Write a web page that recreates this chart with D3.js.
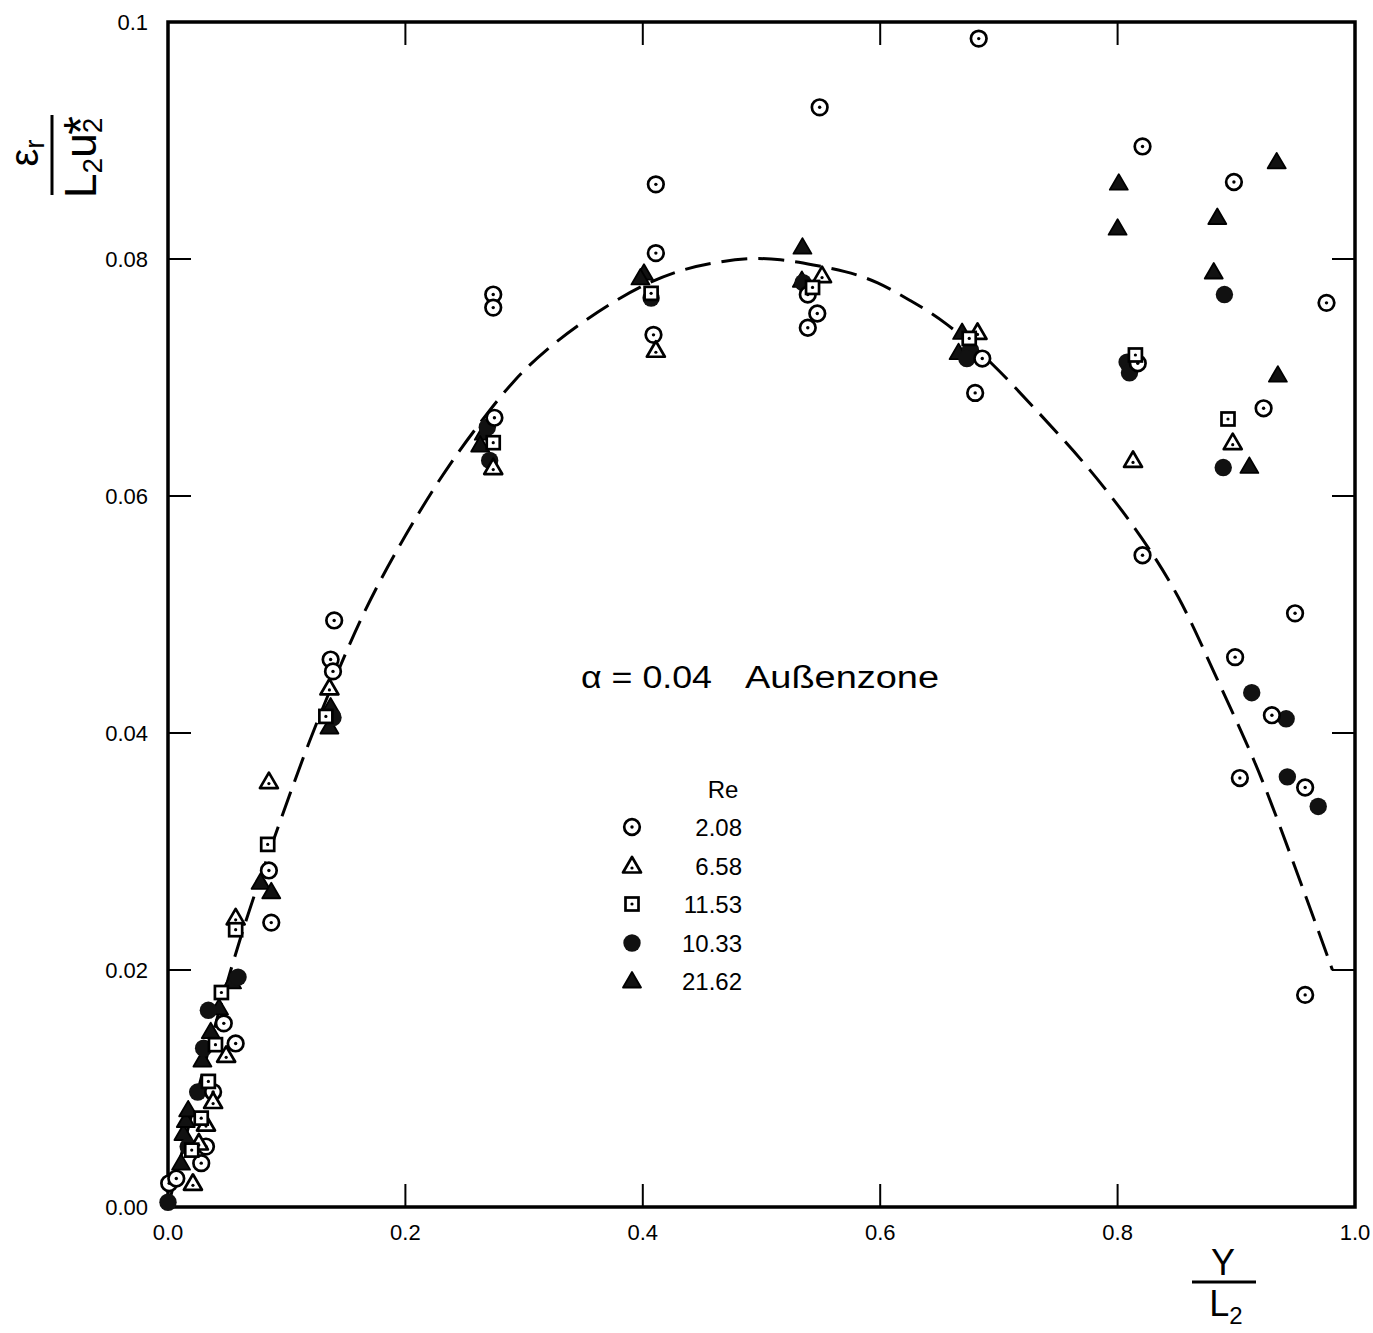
<!DOCTYPE html>
<html><head><meta charset="utf-8">
<script src="https://cdn.jsdelivr.net/npm/d3@7"></script>
<style>body{margin:0;background:#fff}svg{display:block}text{font-family:"Liberation Sans",Arial,sans-serif;fill:#000}</style>
</head><body>
<script>
// ---- data ----
const xTicks = [0.0, 0.2, 0.4, 0.6, 0.8, 1.0];
const xTickLabels = ["0.0", "0.2", "0.4", "0.6", "0.8", "1.0"];
const yTicks = [0.00, 0.02, 0.04, 0.06, 0.08, 0.1];
const yTickLabels = ["0.00", "0.02", "0.04", "0.06", "0.08", "0.1"];

const legendLabels = ["2.08", "6.58", "11.53", "10.33", "21.62"];

const re208 = [[0.001,0.0020],[0.007,0.0024],[0.028,0.0037],[0.032,0.0051],[0.038,0.0097],[0.047,0.0155],[0.057,0.0138],[0.085,0.0284],[0.087,0.0240],[0.140,0.0495],[0.137,0.0462],[0.139,0.0452],[0.274,0.0770],[0.274,0.0759],[0.275,0.0666],[0.411,0.0863],[0.411,0.0805],[0.409,0.0736],[0.549,0.0928],[0.539,0.0770],[0.547,0.0754],[0.539,0.0742],[0.683,0.0986],[0.686,0.0716],[0.680,0.0687],[0.821,0.0895],[0.817,0.0712],[0.821,0.0550],[0.898,0.0865],[0.976,0.0763],[0.923,0.0674],[0.9495,0.0501],[0.899,0.0464],[0.930,0.0415],[0.903,0.0362],[0.958,0.0354],[0.958,0.0179]];
const re658 = [[0.021,0.0020],[0.026,0.0054],[0.032,0.0070],[0.038,0.0089],[0.049,0.0128],[0.057,0.0244],[0.085,0.0359],[0.136,0.0438],[0.274,0.0624],[0.411,0.0723],[0.551,0.0786],[0.682,0.0738],[0.813,0.0630],[0.897,0.0645]];
const re1153 = [[0.020,0.0048],[0.028,0.0075],[0.034,0.0106],[0.040,0.0137],[0.045,0.0181],[0.057,0.0234],[0.084,0.0306],[0.133,0.0414],[0.274,0.0645],[0.407,0.0771],[0.543,0.0776],[0.675,0.0733],[0.815,0.0719],[0.893,0.0665]];
const re1033 = [[0.0,0.0004],[0.017,0.0051],[0.025,0.0097],[0.030,0.0134],[0.034,0.0166],[0.059,0.0194],[0.139,0.0413],[0.269,0.0658],[0.271,0.0630],[0.407,0.0767],[0.535,0.0780],[0.676,0.0723],[0.673,0.0716],[0.808,0.0713],[0.810,0.0704],[0.890,0.0770],[0.889,0.0624],[0.913,0.0434],[0.942,0.0412],[0.943,0.0363],[0.969,0.0338]];
const re2162 = [[0.011,0.0037],[0.013,0.0062],[0.015,0.0073],[0.017,0.0082],[0.029,0.0124],[0.036,0.0148],[0.043,0.0168],[0.054,0.0190],[0.078,0.0274],[0.087,0.0266],[0.137,0.0422],[0.136,0.0405],[0.266,0.0653],[0.263,0.0643],[0.401,0.0788],[0.398,0.0784],[0.5345,0.0810],[0.534,0.0782],[0.669,0.0738],[0.666,0.0721],[0.801,0.0864],[0.800,0.0826],[0.934,0.0882],[0.884,0.0835],[0.881,0.0789],[0.935,0.0702],[0.911,0.0625]];

const curveX = [0.0,0.03,0.06,0.095,0.119,0.146,0.173,0.228,0.263,0.291,0.320,0.348,0.375,0.404,0.432,0.460,0.488,0.516,0.544,0.570,0.598,0.625,0.653,0.695,0.729,0.771,0.815,0.853,0.880,0.917,0.945,0.971,0.981];
const curveY = [0.0,0.0118,0.0228,0.0327,0.0394,0.0459,0.0521,0.0615,0.0662,0.0698,0.0725,0.0746,0.0764,0.0780,0.0791,0.0797,0.0801,0.0800,0.0795,0.0790,0.0781,0.0765,0.0749,0.0712,0.0675,0.0630,0.0574,0.0515,0.0453,0.0375,0.0299,0.0228,0.0200];

// ---- drawing ----
const W = 1373, H = 1333;
const svg = d3.select("body").append("svg").attr("width", W).attr("height", H);
const x = d3.scaleLinear().domain([0, 1]).range([168, 1355]);
const y = d3.scaleLinear().domain([0, 0.1]).range([1207, 22]);

// ticks (inward on all sides)
const TL = 23;
const tg = svg.append("g").attr("stroke", "#000").attr("stroke-width", 2);
xTicks.slice(1, -1).forEach(v => {
  tg.append("line").attr("x1", x(v)).attr("x2", x(v)).attr("y1", y(0)).attr("y2", y(0) - TL);
  tg.append("line").attr("x1", x(v)).attr("x2", x(v)).attr("y1", y(0.1)).attr("y2", y(0.1) + TL);
});
yTicks.slice(1, -1).forEach(v => {
  tg.append("line").attr("x1", x(0)).attr("x2", x(0) + TL).attr("y1", y(v)).attr("y2", y(v));
  tg.append("line").attr("x1", x(1)).attr("x2", x(1) - TL).attr("y1", y(v)).attr("y2", y(v));
});
// frame
svg.append("rect").attr("x", x(0)).attr("y", y(0.1)).attr("width", x(1) - x(0)).attr("height", y(0) - y(0.1))
  .attr("fill", "none").attr("stroke", "#000").attr("stroke-width", 3.5);

// tick labels
svg.append("g").selectAll("text").data(xTicks).join("text")
  .attr("x", d => x(d)).attr("y", y(0) + 33).attr("text-anchor", "middle").attr("font-size", 22)
  .text((d, i) => xTickLabels[i]);
svg.append("g").selectAll("text").data(yTicks).join("text")
  .attr("x", 148).attr("y", d => y(d) + 8).attr("text-anchor", "end").attr("font-size", 22)
  .text((d, i) => yTickLabels[i]);

// dashed curve
const cpts = curveX.map((v, i) => [v, curveY[i]]);
svg.append("path").datum(cpts)
  .attr("d", d3.line().x(d => x(d[0])).y(d => y(d[1])).curve(d3.curveBasis))
  .attr("fill", "none").attr("stroke", "#000").attr("stroke-width", 3)
  .attr("stroke-dasharray", "26,11");

// marker drawing
function drawMarker(g, kind, cx, cy) {
  if (kind === "circ") {
    g.append("circle").attr("cx", cx).attr("cy", cy).attr("r", 7.8).attr("fill", "#fff").attr("stroke", "#000").attr("stroke-width", 2.7);
    g.append("circle").attr("cx", cx).attr("cy", cy).attr("r", 1.7).attr("fill", "#000");
  } else if (kind === "tri" || kind === "ftri") {
    const s = 9;
    const p = `M${cx},${cy - s} L${cx + s},${cy + s * 0.72} L${cx - s},${cy + s * 0.72} Z`;
    if (kind === "tri") {
      g.append("path").attr("d", p).attr("fill", "#fff").attr("stroke", "#000").attr("stroke-width", 2.7).attr("stroke-linejoin", "round");
      g.append("circle").attr("cx", cx).attr("cy", cy + 2).attr("r", 1.6).attr("fill", "#000");
    } else {
      g.append("path").attr("d", p).attr("fill", "#111").attr("stroke", "#000").attr("stroke-width", 1.8).attr("stroke-linejoin", "round");
    }
  } else if (kind === "sq") {
    const s = 6.5;
    g.append("rect").attr("x", cx - s).attr("y", cy - s).attr("width", 2 * s).attr("height", 2 * s)
      .attr("fill", "#fff").attr("stroke", "#000").attr("stroke-width", 2.7);
    g.append("circle").attr("cx", cx).attr("cy", cy).attr("r", 1.6).attr("fill", "#000");
  } else if (kind === "fcirc") {
    g.append("circle").attr("cx", cx).attr("cy", cy).attr("r", 8.7).attr("fill", "#111");
  }
}

const series = [
  {data: re2162, kind: "ftri"},
  {data: re1033, kind: "fcirc"},
  {data: re208, kind: "circ"},
  {data: re658, kind: "tri"},
  {data: re1153, kind: "sq"}
];
const mg = svg.append("g");
series.forEach(s => s.data.forEach(d => drawMarker(mg, s.kind, x(d[0]), y(d[1]))));

// annotation
svg.append("text").attr("x", 581).attr("y", 688).attr("font-size", 31)
  .attr("font-family", "DejaVu Sans").attr("textLength", 131).attr("lengthAdjust", "spacingAndGlyphs")
  .text("\u03b1 = 0.04");
svg.append("text").attr("x", 745).attr("y", 688).attr("font-size", 31)
  .attr("font-family", "DejaVu Sans").attr("textLength", 194).attr("lengthAdjust", "spacingAndGlyphs")
  .text("Au\u00dfenzone");

// legend
svg.append("text").attr("x", 723).attr("y", 798).attr("text-anchor", "middle").attr("font-size", 24)
  .attr("font-family", "DejaVu Sans").text("Re");
const legKinds = ["circ", "tri", "sq", "fcirc", "ftri"];
const legY = [827, 866, 904, 943, 981];
const lg = svg.append("g");
legKinds.forEach((k, i) => {
  drawMarker(lg, k, 632, legY[i]);
  lg.append("text").attr("x", 742).attr("y", legY[i] + 9).attr("text-anchor", "end").attr("font-size", 24)
    .attr("font-family", "DejaVu Sans").text(legendLabels[i]);
});

// y axis label (rotated fraction)
const yl = svg.append("g").attr("transform", "translate(52,155) rotate(-90)");
const num = yl.append("text").attr("x", 2).attr("y", -14).attr("text-anchor", "middle").attr("font-size", 40);
num.append("tspan").text("\u03b5");
num.append("tspan").attr("font-size", 28).attr("dy", 6).text("r");
yl.append("line").attr("x1", -40).attr("x2", 40).attr("y1", 0).attr("y2", 0).attr("stroke", "#000").attr("stroke-width", 3);
const den = yl.append("text").attr("x", -2).attr("y", 44).attr("text-anchor", "middle").attr("font-size", 44);
den.append("tspan").text("L");
den.append("tspan").attr("font-size", 28).attr("dy", 6).text("2");
den.append("tspan").attr("dy", -6).text("u");
den.append("tspan").attr("font-size", 28).attr("dy", 6).text("2");
den.append("tspan").attr("font-size", 48).attr("dx", -17).attr("dy", -5).text("*");

// x axis label (fraction)
svg.append("text").attr("x", 1223).attr("y", 1275).attr("text-anchor", "middle").attr("font-size", 36).text("Y");
svg.append("line").attr("x1", 1192).attr("x2", 1256).attr("y1", 1282).attr("y2", 1282).attr("stroke", "#000").attr("stroke-width", 3);
const xl = svg.append("text").attr("x", 1226).attr("y", 1316).attr("text-anchor", "middle").attr("font-size", 36);
xl.append("tspan").text("L");
xl.append("tspan").attr("font-size", 24).attr("dy", 8).text("2");
</script>
</body></html>
